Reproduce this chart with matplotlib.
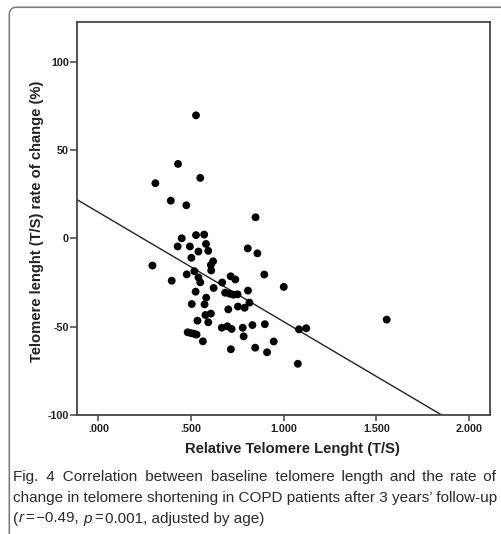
import matplotlib
matplotlib.use("Agg")
import matplotlib.pyplot as plt
from matplotlib.patches import FancyBboxPatch
from matplotlib import font_manager

# ---- data ----
rel_tl = [0.527, 0.430, 0.550, 0.308, 0.391, 0.475, 0.848, 0.527, 0.571, 0.450,
          0.428, 0.494, 0.581, 0.540, 0.593, 0.806, 0.858, 0.502, 0.619, 0.607,
          0.609, 0.292, 0.518, 0.477, 0.895, 0.396, 0.540, 0.550, 0.714, 0.739,
          0.668, 1.000, 0.622, 0.525, 0.684, 0.709, 0.729, 0.751, 0.807, 0.582,
          0.504, 0.573, 0.815, 0.753, 0.789, 0.701, 0.578, 0.607, 0.535, 0.593,
          0.831, 0.898, 0.666, 0.696, 0.719, 0.779, 1.082, 1.121, 1.555, 0.482,
          0.501, 0.516, 0.530, 0.784, 0.564, 0.946, 0.846, 0.715, 0.910, 1.076]
rate_change = [69.6, 42.1, 34.2, 31.2, 21.3, 18.7, 11.9, 1.8, 2.1, 0.0,
               -4.6, -4.6, -3.2, -7.5, -7.1, -5.7, -8.5, -11.0, -13.0, -15.1,
               -18.2, -15.4, -18.6, -20.4, -20.5, -24.0, -22.1, -24.9, -21.5, -23.3,
               -25.0, -27.5, -28.1, -30.2, -30.8, -31.4, -31.9, -31.7, -29.6, -33.6,
               -37.2, -37.4, -36.4, -38.6, -39.3, -40.2, -43.4, -42.6, -46.6, -47.5,
               -49.1, -48.6, -50.6, -49.8, -51.3, -50.6, -51.5, -50.9, -46.0, -53.2,
               -53.7, -54.0, -54.5, -55.5, -58.3, -58.4, -61.9, -62.8, -64.5, -71.0]
fit_intercept = 14.8
fit_slope = -62.0

x_ticks = [0.0, 0.5, 1.0, 1.5, 2.0]
x_ticklabels = [".000", ".500", "1.000", "1.500", "2.000"]
y_ticks = [-100, -50, 0, 50, 100]
y_ticklabels = ["-100", "-50", "0", "50", "100"]

x_label = "Relative Telomere Lenght (T/S)"
y_label = "Telomere lenght (T/S) rate of change (%)"
caption_line1 = "Fig. 4 Correlation between baseline telomere length and the rate of"
caption_line2 = "change in telomere shortening in COPD patients after 3 years\u2019 follow-up"

W, H = 501, 534
fig = plt.figure(figsize=(W / 100, H / 100), dpi=100)
fig.patch.set_facecolor("white")

ax = fig.add_axes([77.3 / W, 1 - 415 / H, (490 - 77.3) / W, (415 - 21.7) / H])
xlim = (-0.113, 2.112)
ax.set_xlim(*xlim)
ax.set_ylim(-100, 122.6)

ax.scatter(rel_tl, rate_change, s=32, color="black", edgecolors="none", zorder=3)
ax.plot(list(xlim), [fit_intercept + fit_slope * xlim[0], fit_intercept + fit_slope * xlim[1]],
        color="#222222", lw=1.0, zorder=2, clip_on=True)

for sp in ax.spines.values():
    sp.set_color("#444444")
    sp.set_linewidth(1.3)

tickfont = dict(family=["Liberation Sans", "DejaVu Sans"], weight="bold", size=7.8)
ax.set_xticks(x_ticks)
ax.set_xticklabels(x_ticklabels, fontdict=tickfont, color="#222222")
ax.set_yticks(y_ticks)
ax.set_yticklabels(y_ticklabels, fontdict=tickfont, color="#222222")
ax.tick_params(axis="x", direction="out", length=4, width=1.1, color="#444444", pad=2.5)
ax.tick_params(axis="y", direction="out", length=5, width=1.1, color="#444444", pad=1)

labfont = dict(family=["Liberation Sans", "DejaVu Sans"], weight="bold", size=10.6, color="#222222")
fig.text(((185 + 400) / 2) / W, 1 - 449 / H, x_label, ha="center", va="center", **labfont)
fig.text(36.7 / W, 1 - 221 / H, y_label, ha="center", va="center", rotation=90, **labfont)

# ---- frame (rounded corner at top-left) ----
frame = FancyBboxPatch((9.3 / W, -0.05), 1.2, (1 - 7.3 / H) + 0.05,
                       boxstyle="round,pad=0,rounding_size=0.014",
                       transform=fig.transFigure, fill=False,
                       edgecolor="#777777", lw=1.1, clip_on=False)
fig.add_artist(frame)

# ---- caption (lines justified by padding gaps with hair spaces) ----
names = {f.name for f in font_manager.fontManager.ttflist}
if "Liberation Sans Narrow" in names:
    capfont = dict(family=["Liberation Sans Narrow", "DejaVu Sans"], size=13.0, color="#2a2a2a")
else:
    capfont = dict(family=["Liberation Sans", "DejaVu Sans"], size=11.0, color="#2a2a2a")
renderer = fig.canvas.get_renderer()
x0, x1 = 12.7, 496.0


def justified(line, ypx):
    words = line.split(" ")
    extra = [0] * (len(words) - 1)
    t = fig.text(x0 / W, 1 - ypx / H, line, ha="left", va="baseline", **capfont)

    def build():
        s = words[0]
        for w, k in zip(words[1:], extra):
            s += " " + "\u200a" * k + w
        return s

    i = 0
    for _ in range(300):
        t.set_text(build())
        if t.get_window_extent(renderer).x1 >= x1 - 0.8:
            break
        extra[i % len(extra)] += 1
        i += 1


justified(caption_line1, 481.5)
justified(caption_line2, 502)

pieces = [("(", "normal", 0.5), ("r", "italic", 2.0), ("=", "normal", 2.0),
          ("\u22120.49, ", "normal", 0), ("p", "italic", 2.0), ("=", "normal", 2.0),
          ("0.001, adjusted by age)", "normal", 0)]
x = x0
for txt, st, g in pieces:
    t = fig.text(x / W, 1 - 522.5 / H, txt, ha="left", va="baseline", style=st, **capfont)
    x += t.get_window_extent(renderer).width + g

fig.savefig("out.png", dpi=100)
